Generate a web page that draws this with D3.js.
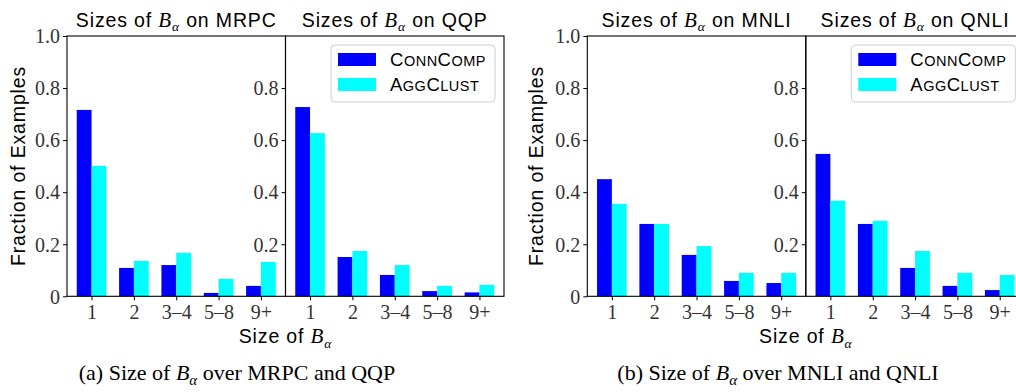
<!DOCTYPE html>
<html>
<head>
<meta charset="utf-8">
<script src="https://cdn.jsdelivr.net/npm/d3@7"></script>
<style>
  html, body { margin: 0; padding: 0; background: #fff; }
  svg { display: block; }
</style>
</head>
<body>
<svg id="chart" width="1016" height="392"></svg>
<script>
// ---- data ----
const categories = ["1", "2", "3\u20134", "5\u20138", "9+"];
const datasets = ["MRPC", "QQP", "MNLI", "QNLI"];
const seriesNames = ["ConnComp", "AggClust"];
const connComp = {
  MRPC: [0.716, 0.109, 0.120, 0.013, 0.040],
  QQP:  [0.727, 0.151, 0.082, 0.020, 0.015],
  MNLI: [0.450, 0.278, 0.159, 0.059, 0.051],
  QNLI: [0.547, 0.278, 0.109, 0.040, 0.024]
};
const aggClust = {
  MRPC: [0.501, 0.136, 0.167, 0.067, 0.132],
  QQP:  [0.627, 0.174, 0.120, 0.040, 0.044],
  MNLI: [0.355, 0.278, 0.193, 0.090, 0.090],
  QNLI: [0.367, 0.290, 0.174, 0.090, 0.082]
};
const yTicksFull = [0, 0.2, 0.4, 0.6, 0.8, 1.0];
const yTicksInner = [0.2, 0.4, 0.6, 0.8];
const captions = [
  { label: "(a) Size of ", after: " over MRPC and QQP" },
  { label: "(b) Size of ", after: " over MNLI and QNLI" }
];

// ---- layout ----
const colors = ["#0000ff", "#00ffff"];
const svg = d3.select("#chart");
const SANS = "'Liberation Sans', Arial, Helvetica, sans-serif";
const SERIF = "'Liberation Serif', 'Times New Roman', serif";
const TICKCOL = "#333";
const SANS_SIZE = 19.5, SANS_LS = "0.85px";
const yTop = 36, yBot = 296.3;
const PW = 218.5;
const panels = [
  { ds: "MRPC", x0: 67,    full: true,  legend: false },
  { ds: "QQP",  x0: 285.5, full: false, legend: true },
  { ds: "MNLI", x0: 587.3, full: true,  legend: false },
  { ds: "QNLI", x0: 805.8, full: false, legend: true }
];
const y = d3.scaleLinear().domain([0, 1.0]).range([yBot, yTop]);
const barW = 0.35;

function mathB(textSel, size, subSize) {
  textSel.append("tspan").attr("font-family", SERIF).attr("font-style", "italic")
    .attr("font-size", size).text("B");
  textSel.append("tspan").attr("font-family", SERIF).attr("font-style", "italic")
    .attr("font-size", subSize).attr("dy", size * 0.22).text("\u03b1");
}

panels.forEach(p => {
  const x = d3.scaleLinear().domain([-0.58, 4.58]).range([p.x0, p.x0 + PW]);
  const g = svg.append("g");
  const idx = d3.range(categories.length);

  // bars
  [connComp, aggClust].forEach((src, si) => {
    g.selectAll(null).data(idx).enter().append("rect")
      .attr("x", i => x(i + (si === 0 ? -barW : 0)))
      .attr("width", i => x(i + barW) - x(i))
      .attr("y", i => y(src[p.ds][i]))
      .attr("height", i => y(0) - y(src[p.ds][i]))
      .attr("fill", colors[si]);
  });

  // x axis
  const xAxis = d3.axisBottom(x).tickValues(idx).tickFormat(i => categories[i])
    .tickSize(4).tickSizeOuter(0);
  const gx = g.append("g").attr("transform", `translate(0,${yBot})`).call(xAxis);
  gx.select(".domain").remove();
  gx.selectAll(".tick line").attr("stroke", "#000").attr("stroke-width", 1);
  gx.selectAll(".tick text").attr("font-family", SERIF).attr("font-size", 20)
    .attr("fill", TICKCOL).attr("dy", "0.95em").attr("y", 4);

  // y axis
  const yAxis = d3.axisLeft(y).tickValues(p.full ? yTicksFull : yTicksInner)
    .tickFormat(v => v === 0 ? "0" : d3.format(".1f")(v)).tickSize(4).tickSizeOuter(0);
  const gy = g.append("g").attr("transform", `translate(${p.x0},0)`).call(yAxis);
  gy.select(".domain").remove();
  gy.selectAll(".tick line").attr("stroke", "#000").attr("stroke-width", 1);
  gy.selectAll(".tick text").attr("font-family", SERIF).attr("font-size", 20)
    .attr("fill", TICKCOL).attr("x", -7).attr("dy", "0.34em");

  // frame
  g.append("rect").attr("x", p.x0).attr("y", yTop).attr("width", PW).attr("height", yBot - yTop)
    .attr("fill", "none").attr("stroke", "#000").attr("stroke-width", 1.1);

  // title
  const t = g.append("text").attr("x", p.x0 + PW / 2).attr("y", 26.5)
    .attr("text-anchor", "middle").attr("font-family", SANS).attr("font-size", SANS_SIZE)
    .attr("letter-spacing", SANS_LS).attr("fill", "#000");
  t.append("tspan").text("Sizes of ");
  mathB(t, 21, 13.5);
  t.append("tspan").attr("dy", -21 * 0.22).text(" on " + p.ds);

  // legend
  if (p.legend) {
    const lw = 164, lh = 57;
    const lx = p.x0 + PW - 9 - lw, ly = 45;
    const lg = g.append("g");
    lg.append("rect").attr("x", lx).attr("y", ly).attr("width", lw).attr("height", lh)
      .attr("rx", 4).attr("fill", "#fff").attr("fill-opacity", 0.8)
      .attr("stroke", "#d0d0d0").attr("stroke-width", 1);
    const parts = [
      [["C", 1], ["ONN", 0], ["C", 1], ["OMP", 0]],
      [["A", 1], ["GG", 0], ["C", 1], ["LUST", 0]]
    ];
    seriesNames.forEach((name, si) => {
      const cy = ly + 14.5 + si * 25;
      lg.append("rect").attr("x", lx + 7).attr("y", cy - 6.5).attr("width", 38).attr("height", 13)
        .attr("fill", colors[si]);
      const tt = lg.append("text").attr("x", lx + 59).attr("y", cy + 6.5)
        .attr("font-family", SANS).attr("letter-spacing", "0.5px").attr("fill", "#000")
        .attr("aria-label", name);
      parts[si].forEach(([s, big]) => {
        tt.append("tspan").attr("font-size", big ? 18.5 : 14.5).text(s);
      });
    });
  }
});

// y labels
[[25, 166], [543, 166]].forEach(([lx, ly]) => {
  svg.append("text").attr("transform", `translate(${lx},${ly}) rotate(-90)`)
    .attr("text-anchor", "middle").attr("font-family", SANS).attr("font-size", SANS_SIZE)
    .attr("letter-spacing", SANS_LS).attr("fill", "#000").text("Fraction of Examples");
});

// x labels
[285.5, 805.8].forEach(cx => {
  const t = svg.append("text").attr("x", cx).attr("y", 343).attr("text-anchor", "middle")
    .attr("font-family", SANS).attr("font-size", SANS_SIZE).attr("letter-spacing", SANS_LS)
    .attr("fill", "#000");
  t.append("tspan").text("Size of ");
  mathB(t, 21, 13.5);
});

// captions
[[237, captions[0]], [778, captions[1]]].forEach(([cx, c]) => {
  const t = svg.append("text").attr("x", cx).attr("y", 380).attr("text-anchor", "middle")
    .attr("font-family", SERIF).attr("font-size", 22).attr("fill", "#000");
  t.append("tspan").text(c.label);
  mathB(t, 22, 15);
  t.append("tspan").attr("dy", -22 * 0.22).text(c.after);
});
</script>
</body>
</html>
